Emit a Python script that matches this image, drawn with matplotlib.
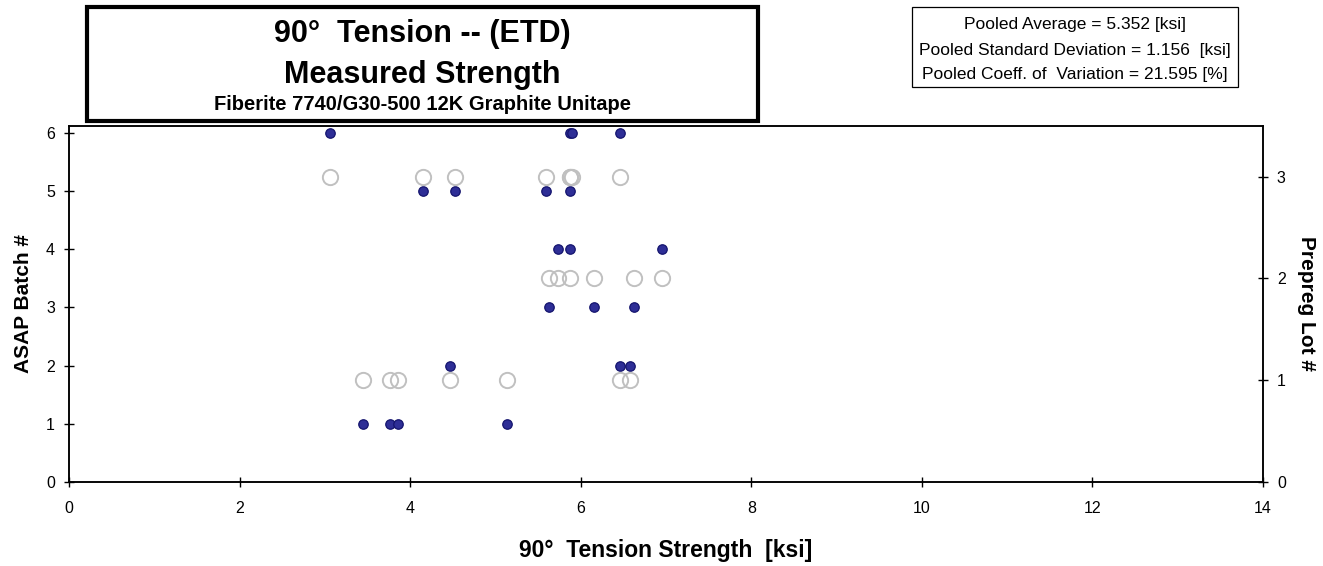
import matplotlib
matplotlib.use("Agg")
import matplotlib.pyplot as plt
from matplotlib.patches import Rectangle

plt.rcParams['font.family'] = ['Liberation Sans', 'DejaVu Sans']

# strength values [ksi] read per ASAP batch
batch_ids = [1, 2, 3, 4, 5, 6]
batch1 = [3.45, 3.76, 3.86, 5.13]
batch2 = [4.47, 6.46, 6.58]
batch3 = [5.63, 6.15, 6.62]
batch4 = [5.73, 5.88, 6.95]
batch5 = [4.145, 4.53, 5.59, 5.87]
batch6 = [3.06, 5.88, 5.90, 6.46]
batch_lot = [1, 1, 2, 2, 3, 3]   # prepreg lot of each batch

stats_lines = ["Pooled Average = 5.352 [ksi]",
               "Pooled Standard Deviation = 1.156  [ksi]",
               "Pooled Coeff. of  Variation = 21.595 [%]"]

batches = [batch1, batch2, batch3, batch4, batch5, batch6]

fig = plt.figure(figsize=(13.23, 5.66), dpi=100)
ax = fig.add_axes([0.05215, 0.14841, 0.9025, 0.62951])
ax2 = ax.twinx()

# gray open circles: prepreg lot (right axis)
for vals, lot in zip(batches, batch_lot):
    ax2.plot(vals, [lot] * len(vals), 'o', ms=11, mfc='none', mec='#C0C0C0', mew=1.4,
             zorder=2)

# blue dots: ASAP batch (left axis)
for vals, b in zip(batches, batch_ids):
    ax.plot(vals, [b] * len(vals), 'o', ms=6.8, mfc='#2E2E96', mec='#14146E', mew=0.9,
            zorder=3)

ax.set_xlim(0, 14)
ax.set_ylim(0, 6.12)
ax2.set_ylim(0, 3.5)
ax.set_xticks(range(0, 15, 2))
ax.set_yticks(range(0, 7))
ax2.set_yticks(range(0, 4))

ax.tick_params(axis='x', direction='inout', length=7, width=1, pad=10, labelsize=11.5)
ax.tick_params(axis='y', direction='inout', length=7, width=1, pad=6.5, labelsize=11.5)
ax2.tick_params(axis='y', direction='inout', length=7, width=1, pad=6.5, labelsize=11.5)
for a in (ax, ax2):
    for s in a.spines.values():
        s.set_linewidth(1.1)
        s.set_color('black')

ax.set_xlabel("90°  Tension Strength  [ksi]", fontsize=16.5, fontweight='bold',
              va='baseline')
ax.xaxis.set_label_coords(0.5, -0.2097)
ax.set_ylabel("ASAP Batch #", fontsize=15, fontweight='bold',
              rotation=90, va='center', ha='center', rotation_mode='default')
ax.yaxis.set_label_coords(-0.0381, 0.5)
ax2.set_ylabel("Prepreg Lot #", fontsize=15, fontweight='bold',
               rotation=270, va='center', ha='center', rotation_mode='default')
ax2.yaxis.set_label_coords(1.0364, 0.5)

# title box
fig.patches.append(Rectangle((0.0658, 0.7862), 0.5072, 0.2014, transform=fig.transFigure,
                             fill=True, fc='white', ec='black', lw=3, zorder=5))
fig.text(0.3193, 0.9258, "90°  Tension -- (ETD)", fontsize=22, fontweight='bold',
         ha='center', va='baseline', zorder=6)
fig.text(0.3193, 0.8534, "Measured Strength", fontsize=22, fontweight='bold',
         ha='center', va='baseline', zorder=6)
fig.text(0.3193, 0.8057, "Fiberite 7740/G30-500 12K Graphite Unitape", fontsize=14.5,
         fontweight='bold', ha='center', va='baseline', zorder=6)

# stats box
fig.patches.append(Rectangle((0.6891, 0.8458), 0.2466, 0.1413, transform=fig.transFigure,
                             fill=True, fc='white', ec='black', lw=0.9, zorder=5))
for line, yb in zip(stats_lines, [0.9482, 0.9037, 0.8604]):
    fig.text(0.8125, yb, line, fontsize=12.5, ha='center', va='baseline', zorder=6)

fig.savefig("out.png", dpi=100)
